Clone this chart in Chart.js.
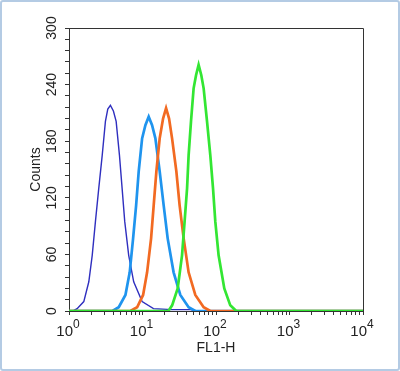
<!DOCTYPE html>
<html lang="en">
<head>
  <meta charset="UTF-8">
  <title>FL1-H histogram</title>
  <script src="https://cdn.jsdelivr.net/npm/chart.js"></script>
  <style>
    body { margin: 0; background: #fff; }
    #wrap { position: relative; width: 400px; height: 371px; }
    #frame { position: absolute; left: 0; top: 0; width: 400px; height: 371px; box-sizing: border-box;
             border: 2px solid #b4cbe4; border-radius: 3px; pointer-events: none; }
  </style>
</head>
<body>
  <div id="wrap">
    <canvas id="chart" width="400" height="371"></canvas>
    <div id="frame"></div>
  </div>

  <script>
    // fluorescence (FL1-H) vs counts
    const darkBlueX = [1, 1.12, 1.29, 1.59, 1.86, 2.07, 2.29, 2.54, 2.83, 3.13, 3.37, 3.66, 4.02, 4.38, 4.86, 5.28, 5.73, 6.49, 7.59, 9.88, 14.1, 25, 44.8, 55.7, 10000];
    const darkBlueY = [0, 0, 2.5, 10, 31, 59, 95, 130, 165, 201, 214, 218, 212, 201, 165, 130, 95, 59, 31, 10, 2.5, 1.5, 1.5, 0, 0];

    const lightBlueX = [1, 3.9, 4.75, 5.86, 6.7, 7.45, 8.19, 8.88, 9.88, 10.95, 12.14, 13.5, 14.97, 17.13, 19.41, 22.0, 26.5, 32.7, 42.4, 52.3, 10000];
    const lightBlueY = [0, 0, 4, 17, 41, 77, 112, 148, 183, 197, 206, 197, 183, 148, 112, 77, 41, 17, 4, 0, 0];

    const orangeX = [1, 6.85, 8.45, 10.19, 11.55, 13.09, 14.2, 15.45, 17.13, 19.05, 20.93, 22.98, 25.25, 28.88, 32.0, 36.3, 42.4, 52.3, 67.9, 83.7, 10000];
    const orangeY = [0, 0, 4, 17, 41, 77, 112, 148, 183, 204, 215, 204, 183, 148, 112, 77, 41, 17, 4, 0, 0];

    const greenX = [1, 22.5, 25.3, 30.1, 34.5, 37.4, 40.4, 42.4, 45.7, 49.6, 53.5, 58.0, 63.1, 67.9, 75.5, 83.7, 91.1, 97.8, 108.5, 129.7, 156.4, 188.7, 10000];
    const greenY = [0, 0, 6, 24, 59, 95, 130, 165, 201, 236, 250, 261, 250, 236, 201, 165, 130, 95, 59, 24, 6, 0, 0];

    // decade labels drawn as 10 + superscript
    const xDecades = [1, 10, 100, 1000, 10000];
    const xExponents = ['0', '1', '2', '3', '4'];
    const yMajorStep = 60;

    const FONT = "'Liberation Sans', Arial, Helvetica, sans-serif";
    const INK = '#222';
    Chart.defaults.font.family = FONT;
    Chart.defaults.color = INK;

    function pts(xs, ys) {
      return xs.map((x, i) => ({ x: x, y: ys[i] }));
    }

    // log ticks 1..9 per decade
    const xTickValues = [];
    for (let e = 0; e < 4; e++) {
      for (let m = 1; m <= 9; m++) xTickValues.push(m * Math.pow(10, e));
    }
    xTickValues.push(10000);

    const frameAndLabels = {
      id: 'frameAndLabels',
      afterDraw(chart) {
        const { ctx, chartArea: a } = chart;
        const xs = chart.scales.x;
        ctx.save();
        ctx.strokeStyle = '#333';
        ctx.lineWidth = 1;
        ctx.beginPath();
        ctx.moveTo(a.left, a.top + 0.5);
        ctx.lineTo(a.right + 0.5, a.top + 0.5);
        ctx.lineTo(a.right + 0.5, a.bottom);
        ctx.stroke();

        ctx.fillStyle = INK;
        ctx.textAlign = 'left';
        ctx.textBaseline = 'alphabetic';
        xDecades.forEach((v, i) => {
          const px = xs.getPixelForValue(v);
          ctx.font = '15px ' + FONT;
          const w1 = ctx.measureText('10').width;
          ctx.font = '12px ' + FONT;
          const w2 = ctx.measureText(xExponents[i]).width;
          const left = px - 1 - (w1 + w2) / 2;
          ctx.font = '15px ' + FONT;
          ctx.fillText('10', left, 336);
          ctx.font = '12px ' + FONT;
          ctx.fillText(xExponents[i], left + w1, 328);
        });
        ctx.restore();
      }
    };

    const series = [
      { label: 'green', xs: greenX, ys: greenY, color: '#33e633', width: 2.7 },
      { label: 'orange', xs: orangeX, ys: orangeY, color: '#f26a22', width: 2.7 },
      { label: 'light blue', xs: lightBlueX, ys: lightBlueY, color: '#1f94ee', width: 2.7 },
      { label: 'dark blue', xs: darkBlueX, ys: darkBlueY, color: '#2f2fbf', width: 1.4 }
    ];

    new Chart(document.getElementById('chart'), {
      type: 'line',
      data: {
        datasets: series.map(s => ({
          label: s.label,
          data: pts(s.xs, s.ys),
          borderColor: s.color,
          borderWidth: s.width,
          pointRadius: 0,
          tension: 0,
          fill: false
        }))
      },
      options: {
        responsive: false,
        animation: false,
        layout: { padding: { left: 0, top: 28, right: 37, bottom: 0 } },
        plugins: { legend: { display: false }, tooltip: { enabled: false } },
        scales: {
          x: {
            type: 'logarithmic',
            min: 1,
            max: 10000,
            afterBuildTicks: s => { s.ticks = xTickValues.map(v => ({ value: v })); },
            ticks: { display: false },
            grid: { drawOnChartArea: false, tickLength: 4, color: '#333' },
            border: { color: '#333' },
            title: { display: true, text: 'FL1-H', font: { size: 14 }, padding: { top: 0, bottom: 14.6 } },
            afterFit: s => { s.height = 60; }
          },
          y: {
            min: 0,
            max: 300,
            ticks: {
              stepSize: 12,
              autoSkip: false,
              minRotation: 90,
              maxRotation: 90,
              crossAlign: 'center',
              padding: 1,
              font: { size: 14 },
              callback: v => (v % yMajorStep === 0 ? String(v) : '')
            },
            grid: { drawOnChartArea: false, tickLength: 4, color: '#333' },
            border: { color: '#333' },
            title: { display: true, text: 'Counts', font: { size: 14 }, padding: { top: 27.6, bottom: 0 } },
            afterFit: s => { s.width = 69; }
          }
        }
      },
      plugins: [frameAndLabels]
    });
  </script>
</body>
</html>
